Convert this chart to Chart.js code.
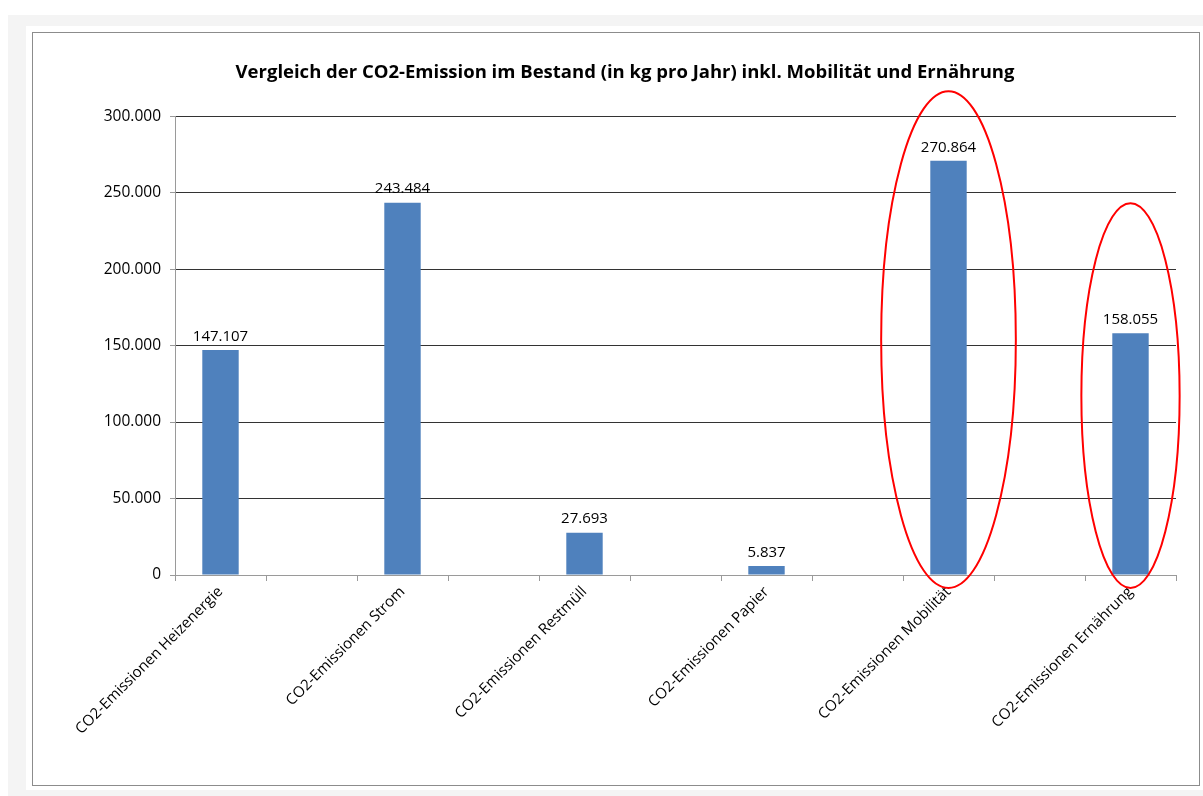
<!DOCTYPE html>
<html><head><meta charset="utf-8">
<script src="https://cdn.jsdelivr.net/npm/chart.js@4.4.1/dist/chart.umd.min.js"></script>
<style>
html,body{margin:0;padding:0;background:#fff;width:1203px;height:796px;overflow:hidden}
#gray{position:absolute;left:8px;top:15px;width:1195px;height:781px;background:#f4f4f4}
#white{position:absolute;left:26px;top:26px;width:1177px;height:764px;background:#fff}
#frame{position:absolute;left:32px;top:32px;width:1166px;height:752px;border:1px solid #8c8c8c;box-sizing:content-box}
#wrap{position:absolute;left:44px;top:33px;width:1154px;height:751px}
</style></head><body>
<div id="gray"></div><div id="white"></div><div id="frame"></div>
<div id="wrap"><canvas id="c"></canvas></div>
<script>
const title = 'Vergleich der CO2-Emission im Bestand (in kg pro Jahr) inkl. Mobilität und Ernährung';
const categories = ['CO2-Emissionen Heizenergie','CO2-Emissionen Strom','CO2-Emissionen Restmüll','CO2-Emissionen Papier','CO2-Emissionen Mobilität','CO2-Emissionen Ernährung'];
const values = [147107, 243484, 27693, 5837, 270864, 158055];
const yTicks = [0, 50000, 100000, 150000, 200000, 250000, 300000];
const highlighted = [4, 5]; // categories circled in red

// interleave empty slots (the original sheet has blank columns between entries)
const labels = [], data = [];
categories.forEach((c, i) => {
  labels.push(c); data.push(values[i]);
  if (i < categories.length - 1) { labels.push(''); data.push(null); }
});
const fmt = v => Math.round(v).toString().replace(/\B(?=(\d{3})+(?!\d))/g, '.');
const FONT = '"Open Sans", sans-serif';

const valueLabels = {
  id: 'valueLabels',
  afterDatasetsDraw(chart) {
    const ctx = chart.ctx, meta = chart.getDatasetMeta(0);
    ctx.save();
    ctx.font = '15px ' + FONT; ctx.fillStyle = '#000';
    ctx.textAlign = 'center'; ctx.textBaseline = 'bottom';
    meta.data.forEach((el, i) => {
      const v = chart.data.datasets[0].data[i];
      if (v == null) return;
      ctx.fillText(fmt(v), el.x, el.y - 6);
    });
    ctx.restore();
  }
};
const ellipses = {
  id: 'ellipses',
  afterDraw(chart) {
    const ctx = chart.ctx, xs = chart.scales.x, ys = chart.scales.y;
    const step = xs.getPixelForValue(1) - xs.getPixelForValue(0);
    ctx.save(); ctx.strokeStyle = '#ff0000'; ctx.lineWidth = 2;
    highlighted.forEach((ci, k) => {
      const idx = ci * 2;
      const v = values[ci];
      const cx = xs.getPixelForValue(idx);
      const rx = step * (k === 0 ? 0.74 : 0.54);
      const top = ys.getPixelForValue(v + (k === 0 ? 45500 : 85000));
      const bot = ys.getPixelForValue(-8500);
      ctx.beginPath();
      ctx.ellipse(cx, (top + bot) / 2, rx, (bot - top) / 2, 0, 0, Math.PI * 2);
      ctx.stroke();
    });
    ctx.restore();
  }
};

new Chart(document.getElementById('c'), {
  type: 'bar',
  data: { labels, datasets: [{ data, backgroundColor: '#4f81bd', barPercentage: 0.4, categoryPercentage: 1 }] },
  options: {
    responsive: true, maintainAspectRatio: false, animation: false,
    layout: { padding: { left: 30, right: 22, top: 0, bottom: 0 } },
    plugins: {
      legend: { display: false }, tooltip: { enabled: false },
      title: { display: true, text: title, color: '#000', font: { family: FONT, size: 18.5, weight: 'bold' }, padding: { top: 29, bottom: 32 } }
    },
    scales: {
      x: {
        grid: { offset: true, drawOnChartArea: false, color: '#9a9a9a', tickLength: 6 },
        border: { color: '#9a9a9a' },
        ticks: { autoSkip: false, minRotation: 45, maxRotation: 45, color: '#000', font: { family: FONT, size: 15 }, padding: 2 },
        afterFit(s) { s.height = 209; }
      },
      y: {
        min: 0, max: 300000,
        afterBuildTicks(s) { s.ticks = yTicks.map(v => ({ value: v })); },
        grid: { color: c => c.tick && c.tick.value === 0 ? '#9a9a9a' : '#333', tickColor: '#9a9a9a', tickLength: 5 },
        border: { color: '#9a9a9a' },
        ticks: { color: '#000', font: { family: FONT, size: 15.5 }, padding: 9, callback: v => fmt(v) },
        afterFit(s) { s.width = 101; }
      }
    }
  },
  plugins: [valueLabels, ellipses]
});
</script>
</body></html>
